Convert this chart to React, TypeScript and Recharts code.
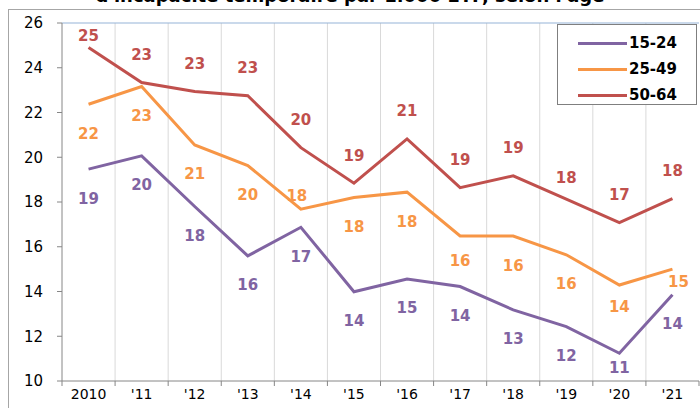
import React from 'react'
import { LineChart, Line, XAxis, YAxis, CartesianGrid, ReferenceLine } from 'recharts'

const years = ['2010', "'11", "'12", "'13", "'14", "'15", "'16", "'17", "'18", "'19", "'20", "'21"]
const age1524 = [19.47, 20.06, 17.8, 15.59, 16.87, 13.99, 14.56, 14.22, 13.18, 12.43, 11.24, 13.85]
const age2549 = [22.37, 23.16, 20.55, 19.63, 17.68, 18.2, 18.44, 16.48, 16.48, 15.64, 14.29, 15.0]
const age5064 = [24.9, 23.34, 22.94, 22.75, 20.43, 18.84, 20.82, 18.64, 19.17, 18.13, 17.08, 18.15]
const yTicks = [10, 12, 14, 16, 18, 20, 22, 24, 26]

const data = years.map((year, i) => ({
  idx: i,
  year,
  a: age1524[i],
  b: age2549[i],
  c: age5064[i],
}))

const PURPLE = '#8064a2'
const ORANGE = '#f79646'
const RED = '#c0504d'
const FONT = '"DejaVu Sans", Verdana, sans-serif'

const W = 700
const H = 408
const M = { top: 23, right: 1, bottom: 0, left: 0 }
const Y_W = 62
const X_H = 27
const PLOT_W = W - M.left - M.right - Y_W
const STEP = PLOT_W / years.length

// label placement: default offset of the text centre from the point, plus a few hand tweaks like in the original
function makeLabel(color: string, dy: number, tweaks: Record<number, { dx?: number; dy?: number }> = {}) {
  return (props: any) => {
    const { x, y, value, index } = props
    const t = tweaks[index] || {}
    let cy = y + (t.dy ?? dy)
    if (cy < 35) cy = 35
    return (
      <text
        x={x + (t.dx ?? 0)}
        y={cy + 5.5}
        textAnchor="middle"
        fill={color}
        fontFamily={FONT}
        fontWeight="bold"
        fontSize={15}
      >
        {Math.round(value)}
      </text>
    )
  }
}

const XTick = (props: any) => {
  const { x, y, payload, index } = props
  const left = x - STEP / 2
  return (
    <g>
      <line x1={left} x2={left} y1={y} y2={y + 5} stroke="#868686" />
      {index === years.length - 1 && (
        <line x1={left + STEP} x2={left + STEP} y1={y} y2={y + 5} stroke="#868686" />
      )}
      <text x={x} y={y + 18} textAnchor="middle" fill="#000" fontFamily={FONT} fontSize={14}>
        {years[payload.value]}
      </text>
    </g>
  )
}

const legendItems = [
  { name: '15-24', color: PURPLE },
  { name: '25-49', color: ORANGE },
  { name: '50-64', color: RED },
]

export default function App() {
  return (
    <div style={{ position: 'absolute', left: 0, top: 0, width: W, height: H, overflow: 'hidden', background: '#fff' }}>
      <div
        style={{
          position: 'absolute', left: 8, top: 9, width: 760, height: 460,
          border: '1px solid #a6a6a6', boxSizing: 'border-box',
        }}
      />
      <div
        style={{
          position: 'absolute', left: 0, width: W, top: -15, textAlign: 'center',
          fontFamily: FONT, fontWeight: 'bold', fontSize: 18, lineHeight: '22px', color: '#000',
        }}
      >
        d'incapacité temporaire par 1.000 ETP, selon l'âge
      </div>
      <div style={{ position: 'absolute', left: 0, top: 0 }}>
        <LineChart width={W} height={H} data={data} margin={M}>
          <CartesianGrid
            horizontal={false}
            stroke="#d9d9d9"
            verticalCoordinatesGenerator={({ offset }: any) =>
              years.map((_, k) => offset.left + (k + 1) * (offset.width / years.length)).slice(0, -1)
            }
          />
          <XAxis
            dataKey="idx"
            type="number"
            domain={[-0.5, 11.5]}
            ticks={years.map((_, i) => i)}
            interval={0}
            height={X_H}
            stroke="#868686"
            tickLine={false}
            tickSize={0}
            tickMargin={0}
            tick={<XTick />}
          />
          <YAxis
            type="number"
            domain={[10, 26]}
            ticks={yTicks}
            interval={0}
            width={Y_W}
            stroke="#868686"
            tickSize={5}
            tickMargin={14}
            tick={{ fill: '#000', fontFamily: FONT, fontSize: 15 }}
          />
          <ReferenceLine y={26} stroke="#95b3d7" strokeWidth={1} />
          <Line
            dataKey="c"
            stroke={RED}
            strokeWidth={3}
            dot={false}
            isAnimationActive={false}
            label={makeLabel(RED, -28, { 9: { dy: -22 } })}
          />
          <Line
            dataKey="b"
            stroke={ORANGE}
            strokeWidth={3}
            dot={false}
            isAnimationActive={false}
            label={makeLabel(ORANGE, 29, { 4: { dy: -14, dx: -4 }, 7: { dy: 24 }, 10: { dy: 21 }, 11: { dy: 12, dx: 6 } })}
          />
          <Line
            dataKey="a"
            stroke={PURPLE}
            strokeWidth={3}
            dot={false}
            isAnimationActive={false}
            label={makeLabel(PURPLE, 29, { 10: { dy: 14 } })}
          />
        </LineChart>
      </div>
      <div
        style={{
          position: 'absolute', left: 557, top: 24, width: 140, height: 81,
          border: '1px solid #7f7f7f', boxSizing: 'border-box', background: '#fff',
          paddingTop: 5,
        }}
      >
        {legendItems.map((it) => (
          <div key={it.name} style={{ display: 'flex', alignItems: 'center', height: 26 }}>
            <div style={{ marginLeft: 20, width: 49, height: 3, background: it.color }} />
            <span style={{ marginLeft: 2, fontFamily: FONT, fontWeight: 'bold', fontSize: 15, color: '#000' }}>
              {it.name}
            </span>
          </div>
        ))}
      </div>
    </div>
  )
}
